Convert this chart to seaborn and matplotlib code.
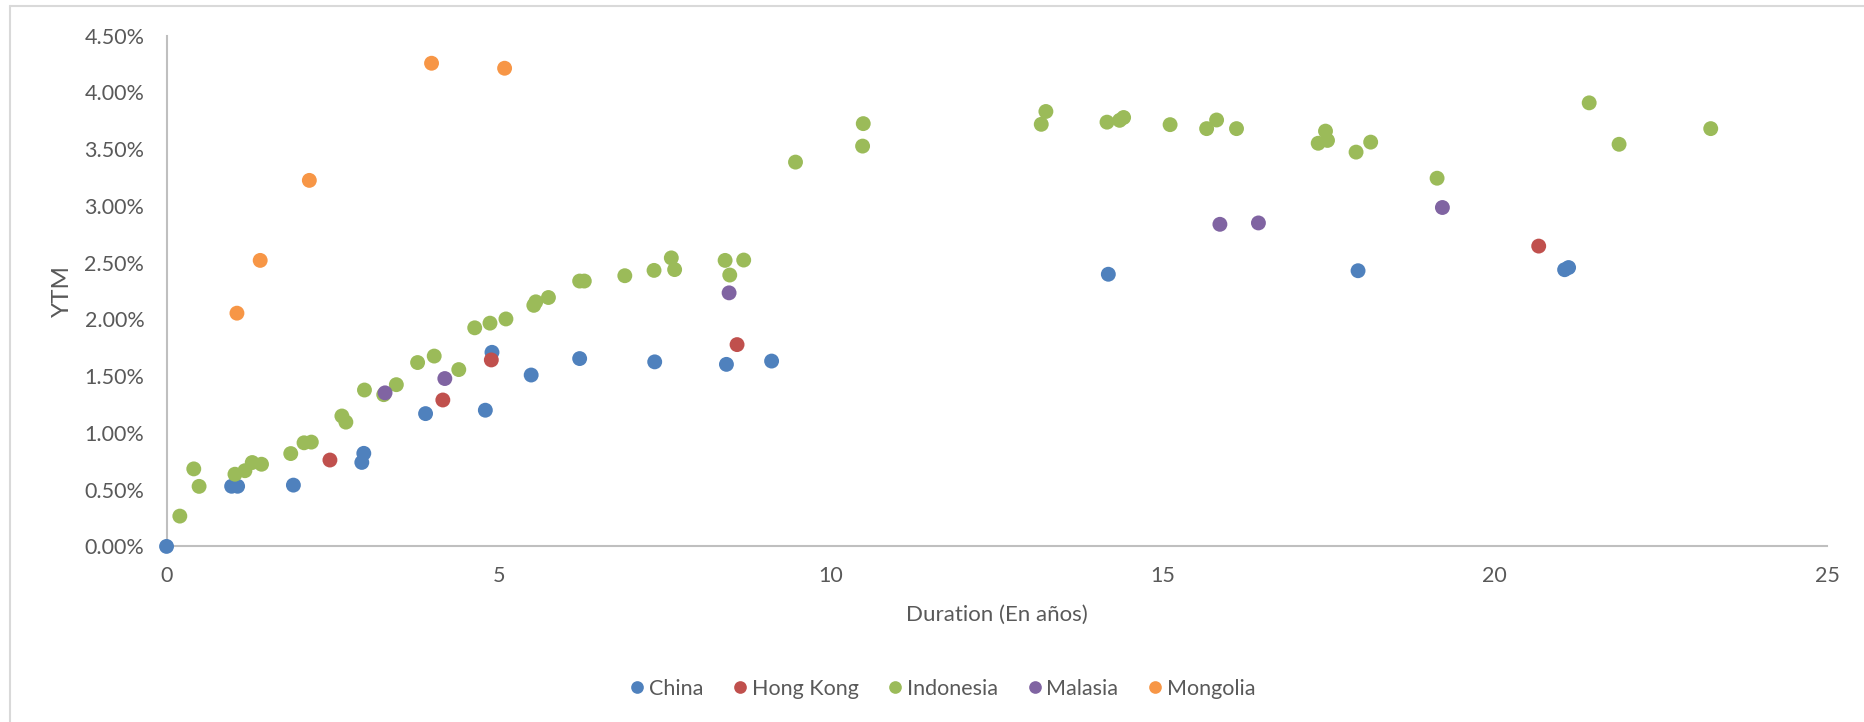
import matplotlib
matplotlib.use('Agg')
import matplotlib.pyplot as plt
import pandas as pd
import seaborn as sns
from matplotlib.ticker import FuncFormatter

# data (duration in years, YTM in %)
countries = ['China', 'Hong Kong', 'Indonesia', 'Malasia', 'Mongolia']

china_dur = [0.0, 0.98, 1.07, 1.91, 2.94, 2.97, 3.90, 4.80, 4.90, 5.49, 6.22,
             7.35, 8.43, 9.11, 14.18, 17.94, 21.05, 21.11]
china_ytm = [0.00, 0.53, 0.53, 0.54, 0.74, 0.82, 1.17, 1.20, 1.71, 1.51, 1.655,
             1.626, 1.604, 1.633, 2.398, 2.429, 2.438, 2.457]

hk_dur = [2.46, 4.16, 4.89, 8.59, 20.66]
hk_ytm = [0.761, 1.290, 1.643, 1.778, 2.646]

indonesia_dur = [0.20, 0.41, 0.49, 1.03, 1.18, 1.29, 1.43, 1.87, 2.07, 2.18,
                 2.64, 2.70, 2.98, 3.27, 3.46, 3.78, 4.03, 4.40, 4.64, 4.87,
                 5.11, 5.53, 5.56, 5.75, 6.22, 6.29, 6.90, 7.34, 7.60, 7.65,
                 8.41, 8.48, 8.69, 9.47, 10.48, 10.49, 13.17, 13.24, 14.16, 14.35,
                 14.41, 15.11, 15.66, 15.81, 16.11, 17.34, 17.45, 17.48, 17.91, 18.13,
                 19.13, 21.42, 21.87, 23.25]
indonesia_ytm = [0.267, 0.683, 0.529, 0.636, 0.667, 0.739, 0.724, 0.818, 0.913, 0.919,
                 1.149, 1.095, 1.378, 1.337, 1.425, 1.620, 1.677, 1.558, 1.926, 1.967,
                 2.004, 2.124, 2.155, 2.193, 2.338, 2.338, 2.385, 2.432, 2.542, 2.439,
                 2.520, 2.391, 2.523, 3.386, 3.527, 3.725, 3.719, 3.832, 3.738, 3.754,
                 3.779, 3.716, 3.681, 3.757, 3.681, 3.552, 3.659, 3.577, 3.474, 3.562,
                 3.244, 3.908, 3.543, 3.681]

malasia_dur = [3.29, 4.19, 8.47, 15.86, 16.44, 19.21]
malasia_ytm = [1.353, 1.479, 2.234, 2.838, 2.850, 2.986]

mongolia_dur = [1.06, 1.41, 2.15, 3.99, 5.09]
mongolia_ytm = [2.055, 2.520, 3.225, 4.257, 4.213]

colors = ['#4F81BD', '#C0504D', '#9BBB59', '#8064A2', '#F79646']

# build one long table, series order = draw order
frames = []
for name, dur, ytm in zip(countries,
                          [china_dur, hk_dur, indonesia_dur, malasia_dur, mongolia_dur],
                          [china_ytm, hk_ytm, indonesia_ytm, malasia_ytm, mongolia_ytm]):
    frames.append(pd.DataFrame({'duration': dur, 'ytm': ytm, 'country': name}))
df = pd.concat(frames, ignore_index=True)

sns.set_style('white')
plt.rcParams['font.family'] = ['Lato', 'DejaVu Sans']

text_color = '#595959'
axis_color = '#BFBFBF'

fig = plt.figure(figsize=(18.65, 7.22), dpi=100)
ax = fig.add_axes([0.0893, 0.2432, 0.8903, 0.7074])

sns.scatterplot(data=df, x='duration', y='ytm', hue='country', hue_order=countries,
                palette=colors, s=115, linewidth=0, alpha=1, clip_on=False, zorder=3, ax=ax)

ax.set_xlim(0, 25)
ax.set_ylim(0, 4.5)
ax.set_xticks(range(0, 26, 5))
ax.set_yticks([i * 0.5 for i in range(10)])
ax.yaxis.set_major_formatter(FuncFormatter(lambda v, p: f'{v:.2f}%'))

for side in ['top', 'right']:
    ax.spines[side].set_visible(False)
for side in ['left', 'bottom']:
    ax.spines[side].set_color(axis_color)
    ax.spines[side].set_linewidth(1.5)

ax.tick_params(axis='both', length=0, labelsize=15.5, colors=text_color)
ax.tick_params(axis='x', pad=14)
ax.tick_params(axis='y', pad=16)

ax.set_xlabel('Duration (En años)', fontsize=16, color=text_color, labelpad=14)
ax.set_ylabel('YTM', fontsize=17.5, color=text_color)
ax.yaxis.set_label_coords(-0.0563, 0.5)

sns.move_legend(ax, 'center', bbox_to_anchor=(0.5056, 0.0457),
                bbox_transform=fig.transFigure, ncol=5, frameon=False, title=None,
                fontsize=15.5, handlelength=0.6, handletextpad=0.25,
                columnspacing=1.4, markerscale=0.85)
for t in ax.get_legend().get_texts():
    t.set_color(text_color)

# chart area border (only left and top edge are inside the crop)
fig.add_artist(plt.Line2D([10 / 1865, 10 / 1865], [0, 1 - 6 / 722],
                          transform=fig.transFigure, color='#D9D9D9', lw=1.5))
fig.add_artist(plt.Line2D([10 / 1865, 1], [1 - 6 / 722, 1 - 6 / 722],
                          transform=fig.transFigure, color='#D9D9D9', lw=1.5))

fig.savefig('out.png', dpi=100)
